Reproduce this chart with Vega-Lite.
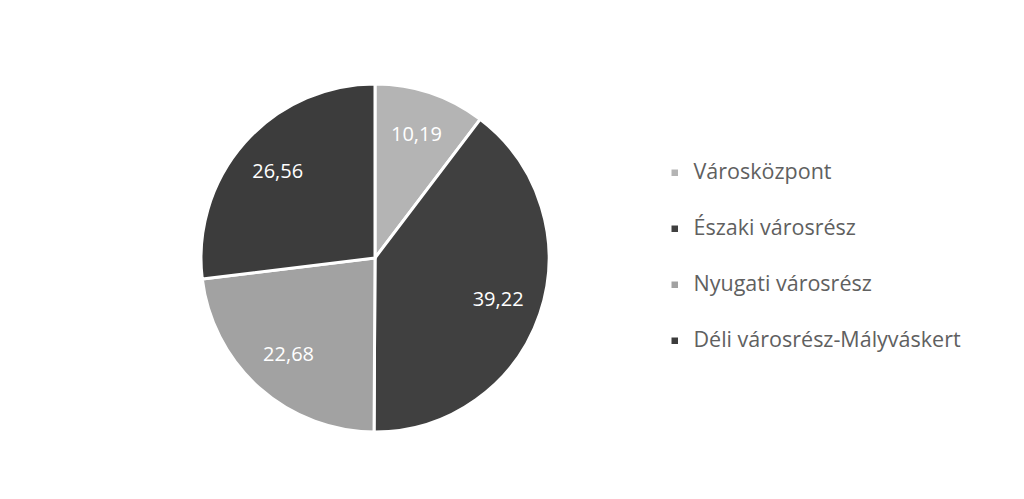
{
  "$schema": "https://vega.github.io/schema/vega-lite/v6.json",
  "width": 750,
  "height": 482,
  "autosize": {"type": "none"},
  "padding": {"top": 17, "left": 0, "right": 274, "bottom": 0},
  "background": "white",
  "config": {
    "view": {"stroke": null},
    "locale": {"number": {"decimal": ",", "thousands": " ", "grouping": [3], "currency": ["", ""]}}
  },
  "data": {
    "values": [
      {"terulet": "Városközpont", "ertek": 10.19, "sorrend": 1},
      {"terulet": "Északi városrész", "ertek": 39.22, "sorrend": 2},
      {"terulet": "Nyugati városrész", "ertek": 22.68, "sorrend": 3},
      {"terulet": "Déli városrész-Mályváskert", "ertek": 26.56, "sorrend": 4}
    ]
  },
  "encoding": {
    "theta": {"field": "ertek", "type": "quantitative", "stack": true},
    "order": {"field": "sorrend", "type": "quantitative"},
    "color": {
      "field": "terulet",
      "type": "nominal",
      "scale": {
        "domain": ["Városközpont", "Északi városrész", "Nyugati városrész", "Déli városrész-Mályváskert"],
        "range": ["#b4b4b4", "#404040", "#a2a2a2", "#3c3c3c"]
      },
      "legend": {
        "title": null,
        "orient": "none",
        "legendX": 664,
        "legendY": 145,
        "symbolType": "square",
        "symbolSize": 64,
        "labelFont": "Open Sans",
        "labelFontSize": 21.5,
        "labelColor": "#606060",
        "labelLimit": 0,
        "rowPadding": 33,
        "labelOffset": 8
      }
    }
  },
  "layer": [
    {"mark": {"type": "arc", "outerRadius": 174, "stroke": "white", "strokeWidth": 3}},
    {
      "mark": {"type": "text", "radius": 130, "font": "Open Sans", "fontSize": 20, "fill": "white"},
      "encoding": {
        "text": {"field": "ertek", "type": "quantitative", "format": ".2f"},
        "color": {"value": "white"}
      }
    }
  ]
}
